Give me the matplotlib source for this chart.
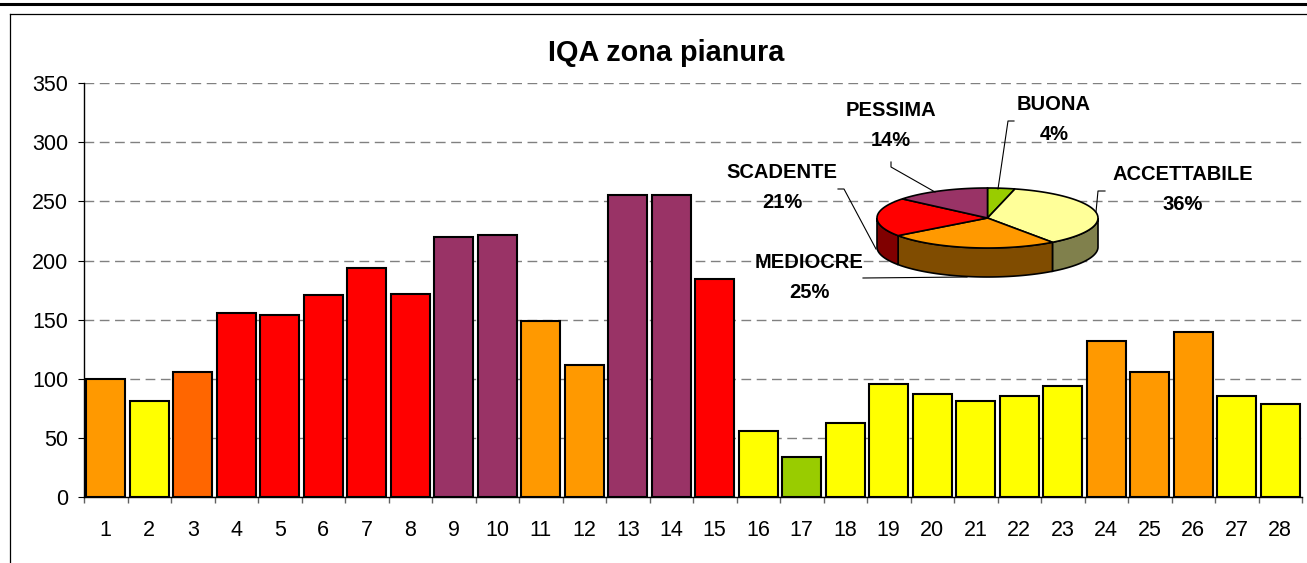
import numpy as np
import matplotlib
matplotlib.use("Agg")
import matplotlib.pyplot as plt
from matplotlib.patches import Polygon

plt.rcParams['font.family'] = ['Liberation Sans', 'DejaVu Sans']

# bar data: IQA per station
stations = [str(i) for i in range(1, 29)]
iqa_values = [100, 81, 106, 156, 154, 171, 194, 172, 220, 222, 149, 112, 255, 255, 184,
              56, 34, 63, 96, 87, 81, 86, 94, 132, 106, 140, 86, 79]
bar_colors = ['#FF9900', '#FFFF00', '#FF6600', '#FF0000', '#FF0000', '#FF0000', '#FF0000',
              '#FF0000', '#993366', '#993366', '#FF9900', '#FF9900', '#993366', '#993366',
              '#FF0000', '#FFFF00', '#99CC00', '#FFFF00', '#FFFF00', '#FFFF00', '#FFFF00',
              '#FFFF00', '#FFFF00', '#FF9900', '#FF9900', '#FF9900', '#FFFF00', '#FFFF00']

# pie data: share of days per class
pie_labels = ['BUONA', 'ACCETTABILE', 'MEDIOCRE', 'SCADENTE', 'PESSIMA']
pie_pct = [4, 36, 25, 21, 14]
pie_top_colors = ['#99CC00', '#FFFF99', '#FF9900', '#FF0000', '#993366']
pie_side_colors = ['#4C6600', '#80804C', '#804C00', '#800000', '#4C1A33']


def arc(cx, cy, rx, ry, a_from, a_to, dz=0, n=60):
    t = np.radians(np.linspace(a_from, a_to, n))
    return np.column_stack([cx + rx * np.cos(t), cy - ry * np.sin(t) + dz])


def draw_pie3d(ax, cx, cy, rx, ry, depth, pct, top_cols, side_cols):
    fracs = np.array(pct, dtype=float) / sum(pct)
    bounds = 90 - 360 * np.concatenate([[0], np.cumsum(fracs)])  # clockwise from 12 o'clock
    # side walls (only the front half, angles between -180 and 0)
    for i in range(len(fracs)):
        a0, a1 = bounds[i], bounds[i + 1]
        hi, lo = min(a0, 0), max(a1, -180)
        if lo < hi:
            top = arc(cx, cy, rx, ry, hi, lo)
            bot = arc(cx, cy, rx, ry, lo, hi, dz=depth)
            ax.add_patch(Polygon(np.vstack([top, bot]), closed=True, facecolor=side_cols[i],
                                 edgecolor='black', linewidth=1.2, zorder=3))
    # top surface
    for i in range(len(fracs)):
        pts = np.vstack([[cx, cy], arc(cx, cy, rx, ry, bounds[i], bounds[i + 1])])
        ax.add_patch(Polygon(pts, closed=True, facecolor=top_cols[i],
                             edgecolor='black', linewidth=1.2, zorder=4))


fig = plt.figure(figsize=(13.07, 5.63), dpi=100)
W, H = 1307, 563
ax = fig.add_axes([84 / W, (H - 497.3) / H, (1302 - 84) / W, (497.3 - 83) / H])

x = np.arange(len(stations))
ax.bar(x, iqa_values, width=0.9, color=bar_colors, edgecolor='black', linewidth=1.5, zorder=2)
ax.set_xlim(-0.5, len(stations) - 0.5)
ax.set_ylim(0, 350)
ax.set_yticks(range(0, 351, 50))
ax.set_xticks(x)
ax.set_xticklabels(stations)
ax.set_xticks(np.arange(-0.5, len(stations), 1), minor=True)
ax.tick_params(axis='x', which='major', length=0, pad=16, labelsize=15.5)
ax.tick_params(axis='x', which='minor', length=4, width=1, color='#606060')
ax.tick_params(axis='y', length=4.3, width=0.8, pad=7, labelsize=15.5)
ax.grid(axis='y', color='#808080', linestyle=(0, (7, 4)), linewidth=1)
ax.set_axisbelow(True)
for s in ['top', 'right']:
    ax.spines[s].set_visible(False)
for s in ['left', 'bottom']:
    ax.spines[s].set_linewidth(1)

fig.text(666 / W, 1 - 53 / H, 'IQA zona pianura', ha='center', va='center',
         fontsize=20.8, fontweight='bold')

# overlay in pixel coordinates for the 3D pie and the frame
ov = fig.add_axes([0, 0, 1, 1])
ov.set_xlim(0, W)
ov.set_ylim(H, 0)
ov.axis('off')
ov.patch.set_alpha(0)

draw_pie3d(ov, 987.5, 218, 110.5, 30, 29, pie_pct, pie_top_colors, pie_side_colors)

label_pos = {'BUONA': (1054, 104), 'ACCETTABILE': (1183, 175), 'MEDIOCRE': (809, 263),
             'SCADENTE': (782, 173), 'PESSIMA': (891, 111)}
leaders = {'BUONA': [(1014, 121), (1008, 121), (998, 189)],
           'ACCETTABILE': [(1105, 191), (1098, 191), (1096, 212)],
           'MEDIOCRE': [(863, 278), (967, 277)],
           'SCADENTE': [(838, 189), (844, 189), (876, 249)],
           'PESSIMA': [(891, 162), (891, 167), (935, 192)]}
for name, p in zip(pie_labels, pie_pct):
    lx, ly = label_pos[name]
    ov.text(lx, ly, name, ha='center', va='center', fontsize=14.5, fontweight='bold', zorder=5)
    ov.text(lx, ly + 30, f'{p}%', ha='center', va='center', fontsize=14.5, fontweight='bold', zorder=5)
    pts = np.array(leaders[name])
    ov.plot(pts[:, 0], pts[:, 1], color='black', linewidth=0.8, zorder=5)

# frame lines
ov.plot([0, W], [4.3, 4.3], color='black', linewidth=2.2)
ov.plot([10, W], [14, 14], color='black', linewidth=0.9)
ov.plot([10, 10], [14, H], color='black', linewidth=0.9)

fig.savefig('out.png', dpi=100)
